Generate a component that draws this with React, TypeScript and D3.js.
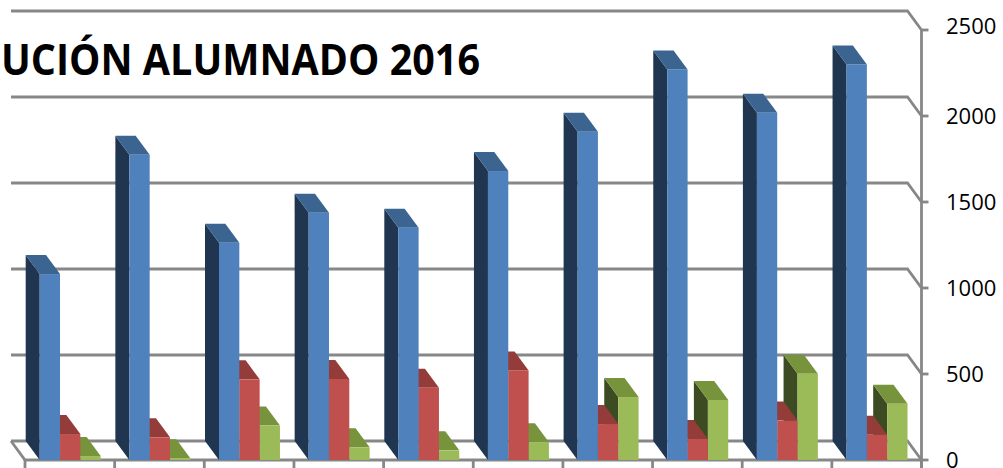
import React, { useEffect, useRef } from 'react';
import * as d3 from 'd3';

// categories (labels are cut off below the picture)
const years = ['2007', '2008', '2009', '2010', '2011', '2012', '2013', '2014', '2015', '2016'];
const seriesNames = ['Serie 1', 'Serie 2', 'Serie 3'];
const serie1 = [1081, 1775, 1263, 1438, 1351, 1680, 1909, 2271, 2019, 2300];
const serie2 = [151, 132, 469, 471, 420, 521, 209, 122, 229, 147];
const serie3 = [23, 10, 200, 74, 56, 103, 366, 349, 502, 327];
const yTicks = [0, 500, 1000, 1500, 2000, 2500];

const colors = [
    { front: '#4F81BD', side: '#1F3550', top: '#3C6490' },
    { front: '#C0504D', side: '#6E2A28', top: '#943C3A' },
    { front: '#9BBB59', side: '#3D4B22', top: '#77933C' }
];

const App = () => {
    const svgRef = useRef(null);

    useEffect(() => {
        const svg = d3.select(svgRef.current);
        svg.selectAll('*').remove();

        const width = 1003;
        const height = 468;
        const depthX = -14;
        const depthY = -19;
        const left = 25;
        const right = 921.5;
        const base = 460;

        const x = d3.scaleBand().domain(years).range([left, right]).padding(0);
        const inner = d3.scaleBand().domain(seriesNames)
            .range([x.bandwidth() * 0.164, x.bandwidth() * 0.844]).padding(0);
        const y = d3.scaleLinear().domain([0, 2500]).range([base, 30]);

        const values = [serie1, serie2, serie3];
        const gridColor = '#878787';
        const gridWidth = 2.8;

        // back wall gridlines with the bend to the front axis
        yTicks.forEach(t => {
            svg.append('path')
                .attr('d', `M${left + depthX},${y(t) + depthY} L${right + depthX},${y(t) + depthY} L${right},${y(t)}`)
                .attr('fill', 'none')
                .attr('stroke', gridColor)
                .attr('stroke-width', gridWidth);
        });

        // floor
        svg.append('path')
            .attr('d', `M${left + depthX},${base + depthY} L${left},${base} L${right},${base}`)
            .attr('fill', 'none')
            .attr('stroke', gridColor)
            .attr('stroke-width', gridWidth);

        // category ticks
        svg.selectAll('.cat-tick')
            .data([...years.map(d => x(d)), right])
            .enter().append('line')
            .attr('x1', d => d).attr('x2', d => d)
            .attr('y1', base).attr('y2', height)
            .attr('stroke', gridColor)
            .attr('stroke-width', gridWidth);

        // bars, drawn right to left so the left faces are covered properly
        const bars = svg.append('g');
        for (let c = years.length - 1; c >= 0; c--) {
            for (let s = seriesNames.length - 1; s >= 0; s--) {
                const v = values[s][c];
                const x0 = x(years[c]) + inner(seriesNames[s]);
                const w = inner.bandwidth();
                const yt = y(v);
                const col = colors[s];
                bars.append('polygon')
                    .attr('points', [[x0, base], [x0, yt], [x0 + depthX, yt + depthY], [x0 + depthX, base + depthY]].join(' '))
                    .attr('fill', col.side);
                bars.append('polygon')
                    .attr('points', [[x0, yt], [x0 + w, yt], [x0 + w + depthX, yt + depthY], [x0 + depthX, yt + depthY]].join(' '))
                    .attr('fill', col.top);
                bars.append('rect')
                    .attr('x', x0)
                    .attr('y', yt)
                    .attr('width', w)
                    .attr('height', base - yt)
                    .attr('fill', col.front);
            }
        }

        // value axis on the right
        svg.append('line')
            .attr('x1', right).attr('x2', right)
            .attr('y1', y(2500)).attr('y2', height)
            .attr('stroke', gridColor)
            .attr('stroke-width', gridWidth);

        const axis = svg.append('g');
        axis.selectAll('line')
            .data(yTicks)
            .enter().append('line')
            .attr('x1', right).attr('x2', right + 7)
            .attr('y1', d => y(d)).attr('y2', d => y(d))
            .attr('stroke', gridColor)
            .attr('stroke-width', gridWidth);
        axis.selectAll('text')
            .data(yTicks)
            .enter().append('text')
            .attr('x', 946)
            .attr('y', d => y(d) - (d === 2500 ? 4 : 0))
            .attr('dy', '0.36em')
            .attr('font-family', '"Open Sans", sans-serif')
            .attr('font-size', 22)
            .attr('fill', '#000')
            .text(d => d);

        // title (cut at the left edge as in the original)
        svg.append('text')
            .attr('x', 1)
            .attr('y', 75)
            .attr('textLength', 479)
            .attr('lengthAdjust', 'spacingAndGlyphs')
            .attr('font-family', '"Open Sans", sans-serif')
            .attr('font-weight', 'bold')
            .attr('font-size', 43)
            .attr('fill', '#000')
            .text('UCIÓN ALUMNADO 2016');

        svg.attr('width', width).attr('height', height);
    }, []);

    return (
        <svg
            ref={svgRef}
            width={1003}
            height={468}
            style={{ position: 'absolute', left: 0, top: 0, display: 'block', background: '#fff' }}
        ></svg>
    );
};

export default App;
